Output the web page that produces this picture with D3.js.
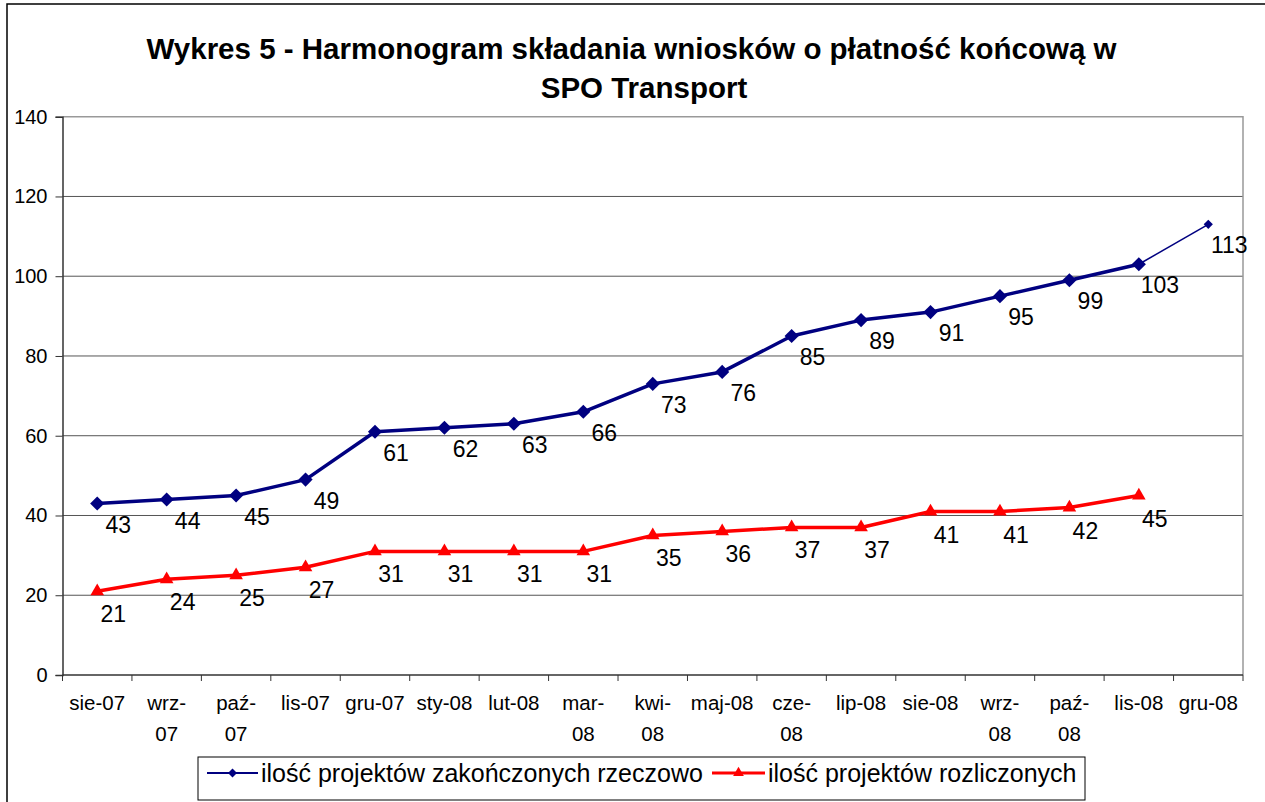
<!DOCTYPE html>
<html>
<head>
<meta charset="utf-8">
<script src="https://cdn.jsdelivr.net/npm/d3@7"></script>
<style>
  html, body { margin: 0; padding: 0; background: #fff; }
  svg { display: block; font-family: "Liberation Sans", Arial, sans-serif; }
</style>
</head>
<body>
<script>
// ---- data ----
const categories = ["sie-07","wrz-07","paź-07","lis-07","gru-07","sty-08","lut-08","mar-08","kwi-08","maj-08","cze-08","lip-08","sie-08","wrz-08","paź-08","lis-08","gru-08"];
const tickLabels = [["sie-07"],["wrz-","07"],["paź-","07"],["lis-07"],["gru-07"],["sty-08"],["lut-08"],["mar-","08"],["kwi-","08"],["maj-08"],["cze-","08"],["lip-08"],["sie-08"],["wrz-","08"],["paź-","08"],["lis-08"],["gru-08"]];
const zakonczone = [43,44,45,49,61,62,63,66,73,76,85,89,91,95,99,103,113];
const rozliczone = [21,24,25,27,31,31,31,31,35,36,37,37,41,41,42,45];
const yTicks = [0,20,40,60,80,100,120,140];
const seriesNames = ["ilość projektów zakończonych rzeczowo", "ilość projektów rozliczonych"];
const titleLines = ["Wykres 5 - Harmonogram składania wniosków o płatność końcową w", "SPO Transport"];

// ---- layout ----
const W = 1265, H = 802;
const plot = {left: 62.5, right: 1243, top: 116.7, bottom: 675};
const BLUE = "#000080", RED = "#FF0000";

const svg = d3.select("body").append("svg").attr("width", W).attr("height", H);

// outer chart border
svg.append("rect").attr("x", 7).attr("y", 4).attr("width", W + 20).attr("height", H + 20)
  .attr("fill", "#fff").attr("stroke", "#000").attr("stroke-width", 1.5);

// title
const titleX = [631.5, 644];
svg.append("g").selectAll("text").data(titleLines).join("text")
  .attr("x", (d, i) => titleX[i]).attr("y", (d, i) => 59 + i * 39)
  .attr("text-anchor", "middle").attr("font-weight", "bold").attr("font-size", 29.5)
  .attr("fill", "#000").text(d => d);

const x = d3.scaleBand().domain(categories).range([plot.left, plot.right]).padding(0);
const y = d3.scaleLinear().domain([0, 140]).range([plot.bottom, plot.top]);
const cx = c => x(c) + x.bandwidth() / 2;

// gridlines
svg.append("g").selectAll("line").data(yTicks.filter(v => v > 0 && v < 140)).join("line")
  .attr("x1", plot.left).attr("x2", plot.right)
  .attr("y1", d => y(d)).attr("y2", d => y(d))
  .attr("stroke", "#555").attr("stroke-width", 1);

// plot area border (gray top/right)
svg.append("path")
  .attr("d", `M${plot.left},${y(140)}H${plot.right}V${y(0)}`)
  .attr("fill", "none").attr("stroke", "#999").attr("stroke-width", 1.5);

// y axis
const yAxis = svg.append("g").attr("transform", `translate(${plot.left},0)`)
  .call(d3.axisLeft(y).tickValues(yTicks).tickSize(7).tickPadding(8).tickFormat(d3.format("d")));
yAxis.select(".domain").attr("stroke", "#333").attr("stroke-width", 1.5);
yAxis.selectAll(".tick line").attr("stroke", "#333");
yAxis.selectAll(".tick text").attr("font-size", 20).attr("fill", "#000")
  .attr("font-family", "Liberation Sans, Arial, sans-serif");

// x axis line
svg.append("line").attr("x1", plot.left).attr("x2", plot.right)
  .attr("y1", y(0)).attr("y2", y(0)).attr("stroke", "#333").attr("stroke-width", 1.5);
// x ticks at category boundaries
const boundaries = categories.map(c => x(c)).concat([x(categories[categories.length - 1]) + x.bandwidth()]);
svg.append("g").selectAll("line").data(boundaries).join("line")
  .attr("x1", d => d).attr("x2", d => d).attr("y1", y(0)).attr("y2", y(0) + 6)
  .attr("stroke", "#333").attr("stroke-width", 1);
// x tick labels
const xl = svg.append("g").selectAll("text").data(categories).join("text")
  .attr("x", d => cx(d)).attr("y", y(0) + 35)
  .attr("text-anchor", "middle").attr("font-size", 20.5).attr("fill", "#000");
xl.each(function(d, i) {
  d3.select(this).selectAll("tspan").data(tickLabels[i]).join("tspan")
    .attr("x", cx(d)).attr("dy", (t, j) => j === 0 ? 0 : 31).text(t => t);
});

// lines
const line = d3.line().x(d => cx(d.c)).y(d => y(d.v));
const blueData = zakonczone.map((v, i) => ({c: categories[i], v}));
const redData = rozliczone.map((v, i) => ({c: categories[i], v}));

svg.append("path").datum(blueData.slice(0, blueData.length - 1)).attr("d", line)
  .attr("fill", "none").attr("stroke", BLUE).attr("stroke-width", 3.5).attr("stroke-linejoin", "round");
svg.append("path").datum(blueData.slice(blueData.length - 2)).attr("d", line)
  .attr("fill", "none").attr("stroke", BLUE).attr("stroke-width", 1.5);
svg.append("path").datum(redData).attr("d", line)
  .attr("fill", "none").attr("stroke", RED).attr("stroke-width", 3.5).attr("stroke-linejoin", "round");

// markers
const diamond = d3.symbol().type(d3.symbolSquare);
svg.append("g").selectAll("path").data(blueData).join("path")
  .attr("d", (d, i) => diamond.size(i === blueData.length - 1 ? 42 : 100)())
  .attr("transform", d => `translate(${cx(d.c)},${y(d.v)}) rotate(45)`)
  .attr("fill", BLUE);
const tri = d3.symbol().type(d3.symbolTriangle).size(80);
svg.append("g").selectAll("path").data(redData).join("path")
  .attr("d", tri()).attr("transform", d => `translate(${cx(d.c)},${y(d.v)})`)
  .attr("fill", RED);

// data labels
svg.append("g").selectAll("text").data(blueData).join("text")
  .attr("x", d => cx(d.c) + 21).attr("y", d => y(d.v) + 21).attr("dy", "0.35em")
  .attr("text-anchor", "middle").attr("font-size", 23).attr("fill", "#000").text(d => d.v);
svg.append("g").selectAll("text").data(redData).join("text")
  .attr("x", d => cx(d.c) + 16).attr("y", d => y(d.v) + 23).attr("dy", "0.35em")
  .attr("text-anchor", "middle").attr("font-size", 23).attr("fill", "#000").text(d => d.v);

// legend
const lg = svg.append("g");
lg.append("rect").attr("x", 198).attr("y", 757).attr("width", 887).attr("height", 43)
  .attr("fill", "#fff").attr("stroke", "#000").attr("stroke-width", 1);
const ly = 773;
lg.append("line").attr("x1", 207).attr("x2", 258).attr("y1", ly).attr("y2", ly)
  .attr("stroke", BLUE).attr("stroke-width", 2);
lg.append("path").attr("d", d3.symbol().type(d3.symbolSquare).size(40)())
  .attr("transform", `translate(232.5,${ly}) rotate(45)`).attr("fill", BLUE);
lg.append("text").attr("x", 261).attr("y", ly).attr("dy", "0.35em")
  .attr("font-size", 25).attr("fill", "#000").text(seriesNames[0]);
lg.append("line").attr("x1", 712).attr("x2", 765).attr("y1", ly).attr("y2", ly)
  .attr("stroke", RED).attr("stroke-width", 3);
lg.append("path").attr("d", d3.symbol().type(d3.symbolTriangle).size(50)())
  .attr("transform", `translate(738.5,${ly})`).attr("fill", RED);
lg.append("text").attr("x", 768).attr("y", ly).attr("dy", "0.35em")
  .attr("font-size", 25).attr("fill", "#000").text(seriesNames[1]);
</script>
</body>
</html>
